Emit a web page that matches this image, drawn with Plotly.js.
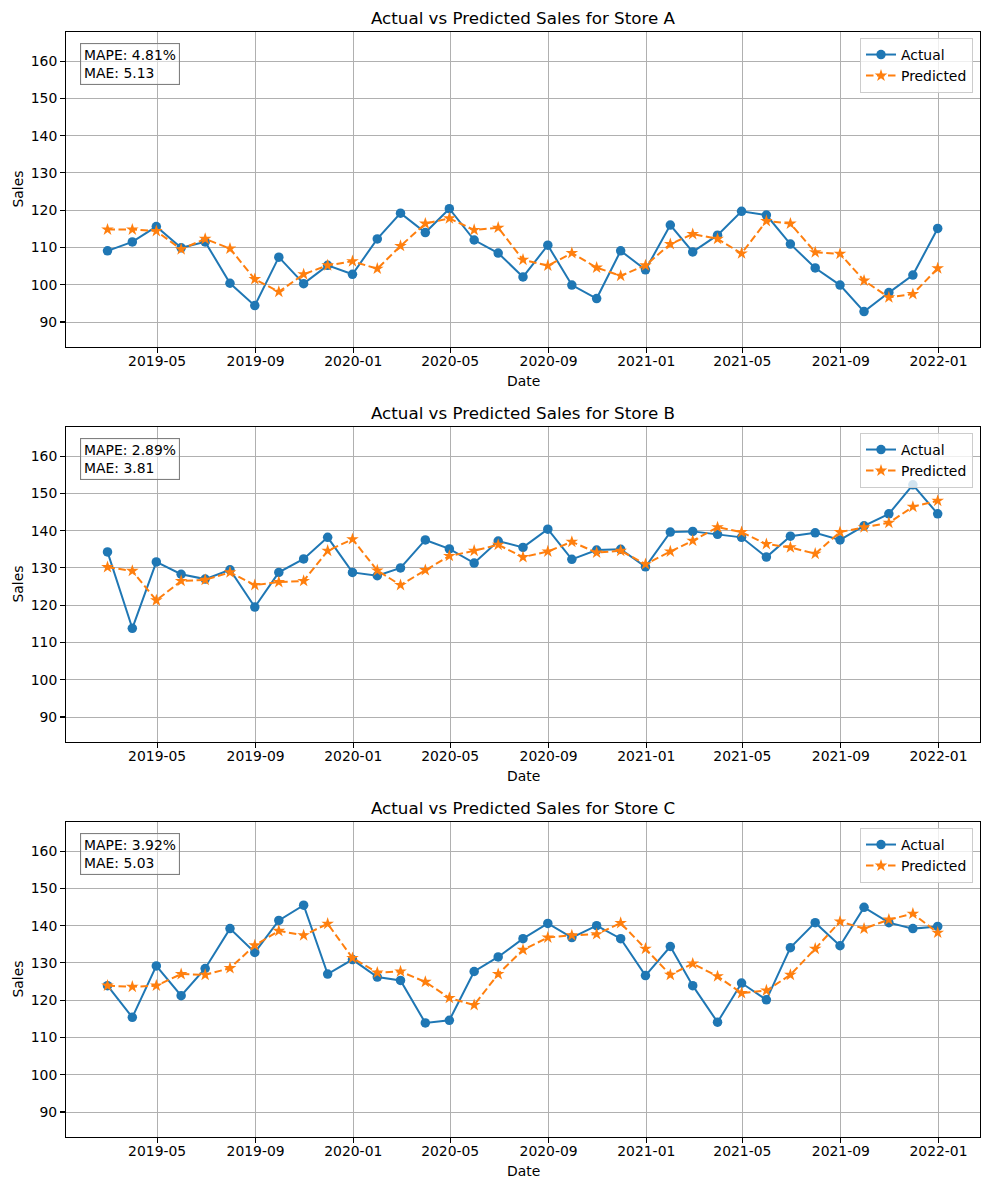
<!DOCTYPE html>
<html>
<head>
<meta charset="utf-8">
<script src="https://cdn.plot.ly/plotly-3.0.1.min.js"></script>
<style>html,body{margin:0;padding:0;background:#fff}#chart{width:989px;height:1190px}</style>
</head>
<body>
<div id="chart"></div>
<script>
const dates = ["2019-02-28","2019-03-31","2019-04-30","2019-05-31","2019-06-30","2019-07-31","2019-08-31","2019-09-30","2019-10-31","2019-11-30","2019-12-31",
"2020-01-31","2020-02-29","2020-03-31","2020-04-30","2020-05-31","2020-06-30","2020-07-31","2020-08-31","2020-09-30","2020-10-31","2020-11-30","2020-12-31",
"2021-01-31","2021-02-28","2021-03-31","2021-04-30","2021-05-31","2021-06-30","2021-07-31","2021-08-31","2021-09-30","2021-10-31","2021-11-30","2021-12-31"];

const stores = ["A", "B", "C"];

const actualA = [109.1,111.5,115.6,109.9,111.5,100.4,94.4,107.4,100.3,105.2,102.8,112.3,119.2,114.0,120.4,112.0,108.5,102.1,110.6,99.9,96.3,109.1,104.0,116.0,108.8,113.3,119.7,118.7,110.9,104.5,99.9,92.8,97.9,102.6,115.1];
const predA   = [114.8,114.8,114.4,109.5,112.3,109.7,101.5,98.1,102.8,105.2,106.3,104.3,110.4,116.4,117.8,114.7,115.3,106.7,105.1,108.5,104.6,102.4,105.2,110.9,113.6,112.3,108.4,117.1,116.4,108.7,108.3,101.1,96.6,97.5,104.4];

const actualB = [134.3,113.8,131.6,128.3,127.0,129.5,119.5,128.8,132.4,138.2,128.8,127.9,130.0,137.5,135.1,131.3,137.2,135.5,140.4,132.3,134.8,135.0,130.3,139.6,139.8,139.0,138.2,132.9,138.5,139.4,137.5,141.3,144.5,152.3,144.5];
const predB   = [130.2,129.2,121.3,126.5,126.8,128.8,125.4,126.2,126.5,134.6,137.7,129.3,125.4,129.4,133.2,134.6,136.2,132.9,134.4,137.0,134.1,134.6,131.0,134.4,137.3,140.9,139.6,136.4,135.5,133.8,139.6,140.9,142.1,146.4,148.0];

const actualC = [123.9,115.4,129.2,121.2,128.5,139.2,132.8,141.4,145.5,127.0,130.9,126.2,125.3,113.9,114.6,127.7,131.6,136.5,140.6,136.8,140.0,136.5,126.6,134.4,123.9,114.1,124.6,120.1,134.1,140.8,134.6,144.9,140.8,139.2,139.8];
const predC   = [123.9,123.6,123.9,127.0,126.8,128.6,134.7,138.6,137.4,140.5,131.3,127.4,127.7,124.9,120.6,118.7,127.0,133.5,136.8,137.4,137.7,140.7,133.8,126.8,129.8,126.4,121.9,122.6,126.8,133.8,141.1,139.2,141.6,143.2,138.1];

const mapeLabels = ["MAPE: 4.81%", "MAPE: 2.89%", "MAPE: 3.92%"];
const maeLabels  = ["MAE: 5.13", "MAE: 3.81", "MAE: 5.03"];

const actuals = [actualA, actualB, actualC];
const preds = [predA, predB, predC];

const W = 989, H = 1190;
const FONT = "DejaVu Sans, sans-serif";
const BLUE = "#1f77b4", ORANGE = "#ff7f0e";
const panels = [[32, 347], [427, 742], [822, 1137]];
const xL = 66, xR = 980;
const yRange = [83.3, 167.8];
const xRange = ["2019-01-07 04:00", "2022-02-21 20:00"];

const traces = [];
const layout = {
  width: W, height: H,
  margin: {l: 0, r: 0, t: 0, b: 0},
  paper_bgcolor: "#fff", plot_bgcolor: "#fff",
  font: {family: FONT, size: 13.9, color: "#000"},
  showlegend: true,
  annotations: [],
  hovermode: false
};

stores.forEach((s, i) => {
  const n = i === 0 ? "" : String(i + 1);
  const xa = "x" + n, ya = "y" + n;
  const legName = "legend" + n;
  traces.push({
    x: dates, y: actuals[i], xaxis: xa, yaxis: ya, name: "Actual",
    type: "scatter", mode: "lines+markers",
    line: {color: BLUE, width: 2},
    marker: {color: BLUE, size: 9.5, symbol: "circle"},
    legend: legName
  });
  traces.push({
    x: dates, y: preds[i], xaxis: xa, yaxis: ya, name: "Predicted",
    type: "scatter", mode: "lines+markers",
    line: {color: ORANGE, width: 2, dash: "7.5px,3.5px"},
    marker: {color: ORANGE, size: 9.5, symbol: "star"},
    legend: legName
  });
  const [top, bot] = panels[i];
  const dom = [1 - bot / H, 1 - top / H];
  layout["xaxis" + n] = {
    domain: [xL / W, xR / W], anchor: ya, type: "date", range: xRange,
    tick0: "2019-01-01", dtick: "M4", tickformat: "%Y-%m",
    showgrid: true, gridcolor: "#b0b0b0", gridwidth: 1,
    showline: true, linecolor: "#000", linewidth: 1.1, mirror: true,
    ticks: "outside", ticklen: 4.9, tickwidth: 1.1, tickcolor: "#000",
    ticklabelstandoff: -4,
    tickfont: {family: FONT, size: 13.9, color: "#000"},
    zeroline: false, automargin: false
  };
  layout["yaxis" + n] = {
    domain: dom, anchor: xa, range: yRange,
    tickmode: "linear", tick0: 90, dtick: 10,
    showgrid: true, gridcolor: "#b0b0b0", gridwidth: 1,
    showline: true, linecolor: "#000", linewidth: 1.1, mirror: true,
    ticks: "outside", ticklen: 4.9, tickwidth: 1.1, tickcolor: "#000",
    tickfont: {family: FONT, size: 13.9, color: "#000"},
    zeroline: false, automargin: false
  };
  layout[legName] = {
    x: 973 / W, xanchor: "right", y: 1 - (top + 6) / H, yanchor: "top",
    bgcolor: "rgba(255,255,255,0.8)", bordercolor: "#cccccc", borderwidth: 1,
    font: {family: FONT, size: 13.9, color: "#000"},
    tracegroupgap: 0, itemwidth: 30
  };
  layout.annotations.push({
    xref: "paper", yref: "paper", x: (xL + xR) / 2 / W, y: 1 - (top - 14) / H,
    xanchor: "center", yanchor: "middle", showarrow: false,
    text: "Actual vs Predicted Sales for Store " + s,
    font: {family: FONT, size: 16.7, color: "#000"}
  });
  layout.annotations.push({
    xref: "paper", yref: "paper", x: (xL + xR) / 2 / W, y: 1 - (bot + 34) / H,
    xanchor: "center", yanchor: "middle", showarrow: false,
    text: "Date", font: {family: FONT, size: 13.9, color: "#000"}
  });
  layout.annotations.push({
    xref: "paper", yref: "paper", x: 17 / W, y: 1 - (top + bot) / 2 / H,
    xanchor: "center", yanchor: "middle", showarrow: false, textangle: -90,
    text: "Sales", font: {family: FONT, size: 13.9, color: "#000"}
  });
  layout.annotations.push({
    xref: "paper", yref: "paper", x: 80 / W, y: 1 - (top + 11) / H,
    xanchor: "left", yanchor: "top", showarrow: false, align: "left",
    text: mapeLabels[i] + "<br>" + maeLabels[i],
    font: {family: FONT, size: 13.9, color: "#000"},
    bgcolor: "rgba(255,255,255,0.5)", bordercolor: "#808080", borderwidth: 1.1, borderpad: 3
  });
});

Plotly.newPlot("chart", traces, layout, {staticPlot: true, displayModeBar: false});
</script>
</body>
</html>
